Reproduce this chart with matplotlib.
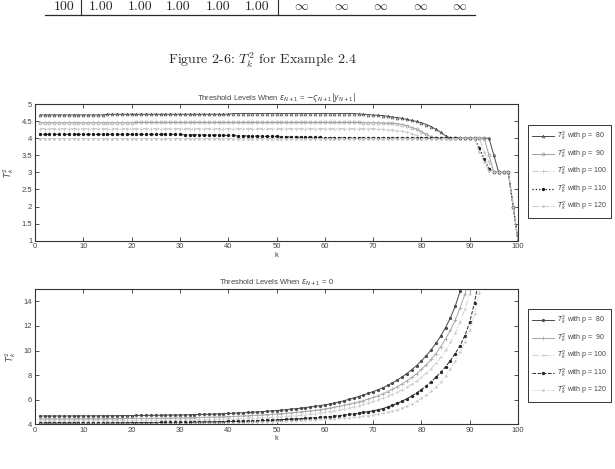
import matplotlib
matplotlib.use("Agg")
import matplotlib.pyplot as plt
from matplotlib.ticker import FuncFormatter
import numpy as np

# ---------------- data ----------------
p_values = [80, 90, 100, 110, 120]

top_p80 = [4.68, 4.68, 4.68, 4.68, 4.68, 4.68, 4.68, 4.68, 4.68, 4.68,
           4.68, 4.68, 4.68, 4.68, 4.70, 4.70, 4.70, 4.70, 4.70, 4.70,
           4.70, 4.70, 4.70, 4.70, 4.70, 4.70, 4.70, 4.70, 4.70, 4.70,
           4.70, 4.70, 4.70, 4.70, 4.70, 4.70, 4.70, 4.70, 4.70, 4.70,
           4.72, 4.72, 4.72, 4.72, 4.72, 4.72, 4.72, 4.72, 4.72, 4.72,
           4.72, 4.72, 4.72, 4.72, 4.72, 4.72, 4.72, 4.72, 4.72, 4.72,
           4.72, 4.72, 4.72, 4.72, 4.72, 4.72, 4.71, 4.70, 4.69, 4.68,
           4.67, 4.66, 4.64, 4.62, 4.60, 4.58, 4.55, 4.52, 4.49, 4.45,
           4.40, 4.34, 4.26, 4.17, 4.07, 4.00, 4.00, 4.00, 4.00, 4.00,
           4.00, 4.00, 4.00, 4.00, 3.50, 3.00, 3.00, 3.00, 2.00, 1.00]
top_p90 = [4.45, 4.45, 4.45, 4.45, 4.45, 4.45, 4.45, 4.45, 4.45, 4.45,
           4.45, 4.45, 4.45, 4.45, 4.45, 4.45, 4.45, 4.45, 4.45, 4.45,
           4.46, 4.46, 4.46, 4.46, 4.46, 4.46, 4.46, 4.46, 4.46, 4.46,
           4.46, 4.46, 4.46, 4.46, 4.46, 4.46, 4.46, 4.46, 4.46, 4.46,
           4.46, 4.46, 4.46, 4.46, 4.46, 4.46, 4.46, 4.46, 4.46, 4.46,
           4.46, 4.46, 4.46, 4.46, 4.46, 4.46, 4.46, 4.46, 4.46, 4.46,
           4.46, 4.46, 4.46, 4.46, 4.46, 4.46, 4.46, 4.45, 4.45, 4.45,
           4.45, 4.44, 4.44, 4.43, 4.42, 4.40, 4.36, 4.31, 4.26, 4.19,
           4.11, 4.04, 4.00, 4.00, 4.00, 4.00, 4.00, 4.00, 4.00, 4.00,
           4.00, 4.00, 4.00, 3.50, 3.00, 3.00, 3.00, 3.00, 2.00, 1.00]
top_p100 = [4.28, 4.28, 4.28, 4.28, 4.28, 4.28, 4.28, 4.28, 4.28, 4.28,
            4.28, 4.28, 4.28, 4.28, 4.28, 4.28, 4.28, 4.28, 4.28, 4.28,
            4.28, 4.28, 4.28, 4.28, 4.28, 4.28, 4.28, 4.28, 4.28, 4.28,
            4.28, 4.28, 4.28, 4.28, 4.28, 4.28, 4.28, 4.28, 4.28, 4.28,
            4.28, 4.28, 4.28, 4.28, 4.28, 4.28, 4.28, 4.28, 4.28, 4.28,
            4.28, 4.28, 4.28, 4.28, 4.28, 4.28, 4.28, 4.28, 4.28, 4.28,
            4.28, 4.28, 4.28, 4.28, 4.28, 4.28, 4.28, 4.28, 4.28, 4.28,
            4.27, 4.26, 4.25, 4.24, 4.22, 4.20, 4.17, 4.13, 4.08, 4.03,
            4.00, 4.00, 4.00, 4.00, 4.00, 4.00, 4.00, 4.00, 4.00, 4.00,
            4.00, 4.00, 3.60, 3.30, 3.00, 3.00, 3.00, 3.00, 2.00, 1.00]
top_p110 = [4.11, 4.11, 4.11, 4.11, 4.11, 4.11, 4.11, 4.11, 4.11, 4.11,
            4.11, 4.11, 4.11, 4.11, 4.11, 4.11, 4.11, 4.11, 4.11, 4.11,
            4.11, 4.11, 4.11, 4.11, 4.11, 4.11, 4.11, 4.11, 4.11, 4.11,
            4.10, 4.10, 4.10, 4.10, 4.09, 4.09, 4.09, 4.09, 4.08, 4.08,
            4.08, 4.07, 4.07, 4.07, 4.06, 4.06, 4.06, 4.05, 4.05, 4.05,
            4.04, 4.04, 4.04, 4.03, 4.03, 4.03, 4.02, 4.02, 4.02, 4.01,
            4.01, 4.01, 4.01, 4.01, 4.01, 4.00, 4.00, 4.00, 4.00, 4.00,
            4.00, 4.00, 4.00, 4.00, 4.00, 4.00, 4.00, 4.00, 4.00, 4.00,
            4.00, 4.00, 4.00, 4.00, 4.00, 4.00, 4.00, 4.00, 4.00, 4.00,
            4.00, 3.70, 3.40, 3.10, 3.00, 3.00, 3.00, 3.00, 2.00, 1.00]
top_p120 = [3.99, 3.99, 3.99, 3.99, 3.99, 3.99, 3.99, 3.99, 3.99, 3.99,
            3.99, 3.99, 3.99, 3.99, 3.99, 3.99, 3.99, 3.99, 3.99, 3.99,
            3.99, 3.99, 3.99, 3.99, 3.99, 3.99, 3.99, 3.99, 3.99, 3.99,
            3.99, 3.99, 3.99, 3.99, 3.99, 3.99, 3.99, 3.99, 3.99, 3.99,
            3.99, 3.99, 3.99, 3.99, 3.99, 3.99, 3.99, 3.99, 3.99, 3.99,
            3.99, 3.99, 3.99, 3.99, 3.99, 3.99, 3.99, 3.99, 3.99, 3.99,
            3.99, 3.99, 3.99, 3.99, 3.99, 3.99, 3.99, 3.99, 3.99, 3.99,
            3.99, 3.99, 3.99, 3.99, 3.99, 3.99, 3.99, 3.99, 3.99, 3.99,
            3.99, 3.99, 3.99, 3.99, 3.99, 3.99, 3.99, 4.00, 4.00, 4.00,
            4.00, 3.60, 3.30, 3.05, 3.00, 3.00, 3.00, 3.00, 2.00, 1.00]

bot_p80 = [4.68, 4.68, 4.68, 4.68, 4.68, 4.68, 4.68, 4.68, 4.69, 4.69,
           4.69, 4.69, 4.69, 4.70, 4.70, 4.70, 4.70, 4.71, 4.71, 4.71,
           4.72, 4.72, 4.72, 4.73, 4.73, 4.74, 4.74, 4.75, 4.76, 4.76,
           4.77, 4.78, 4.79, 4.80, 4.81, 4.82, 4.83, 4.85, 4.86, 4.88,
           4.90, 4.92, 4.94, 4.96, 4.98, 5.00, 5.03, 5.06, 5.09, 5.12,
           5.15, 5.19, 5.23, 5.27, 5.31, 5.36, 5.41, 5.46, 5.52, 5.58,
           5.65, 5.73, 5.82, 5.92, 6.03, 6.14, 6.26, 6.39, 6.52, 6.66,
           6.80, 6.97, 7.16, 7.37, 7.60, 7.85, 8.13, 8.44, 8.78, 9.16,
           9.58, 10.05, 10.58, 11.18, 11.86, 12.65, 13.60, 14.80, 16.30]
bot_p90 = [4.45, 4.45, 4.45, 4.45, 4.45, 4.45, 4.45, 4.45, 4.46, 4.46,
           4.46, 4.46, 4.46, 4.46, 4.47, 4.47, 4.47, 4.47, 4.48, 4.48,
           4.48, 4.49, 4.49, 4.49, 4.50, 4.50, 4.51, 4.51, 4.52, 4.53,
           4.53, 4.54, 4.55, 4.56, 4.57, 4.58, 4.59, 4.60, 4.61, 4.63,
           4.64, 4.66, 4.68, 4.70, 4.72, 4.74, 4.76, 4.79, 4.81, 4.84,
           4.87, 4.90, 4.94, 4.97, 5.01, 5.05, 5.09, 5.14, 5.19, 5.25,
           5.32, 5.39, 5.46, 5.54, 5.63, 5.72, 5.82, 5.93, 6.05, 6.18,
           6.32, 6.48, 6.65, 6.84, 7.05, 7.28, 7.53, 7.81, 8.12, 8.46,
           8.84, 9.27, 9.75, 10.30, 10.93, 11.65, 12.48, 13.45, 14.58, 15.90]
bot_p100 = [4.28, 4.28, 4.28, 4.28, 4.28, 4.28, 4.28, 4.28, 4.29, 4.29,
            4.29, 4.29, 4.29, 4.29, 4.30, 4.30, 4.30, 4.30, 4.31, 4.31,
            4.31, 4.31, 4.32, 4.32, 4.32, 4.33, 4.33, 4.34, 4.34, 4.35,
            4.35, 4.36, 4.37, 4.37, 4.38, 4.39, 4.40, 4.41, 4.42, 4.43,
            4.44, 4.45, 4.47, 4.48, 4.50, 4.51, 4.53, 4.55, 4.57, 4.59,
            4.61, 4.64, 4.67, 4.70, 4.74, 4.78, 4.82, 4.87, 4.92, 4.97,
            5.03, 5.09, 5.16, 5.23, 5.31, 5.40, 5.50, 5.61, 5.73, 5.86,
            5.98, 6.12, 6.27, 6.43, 6.61, 6.81, 7.03, 7.27, 7.53, 7.82,
            8.15, 8.53, 8.96, 9.45, 10.01, 10.66, 11.42, 12.31, 13.36, 14.60,
            16.10]
bot_p110 = [4.11, 4.11, 4.11, 4.11, 4.11, 4.11, 4.11, 4.11, 4.11, 4.11,
            4.11, 4.11, 4.11, 4.12, 4.12, 4.12, 4.12, 4.12, 4.13, 4.13,
            4.13, 4.13, 4.14, 4.14, 4.14, 4.15, 4.15, 4.15, 4.16, 4.16,
            4.17, 4.17, 4.18, 4.18, 4.19, 4.20, 4.20, 4.21, 4.22, 4.23,
            4.24, 4.25, 4.26, 4.27, 4.28, 4.30, 4.31, 4.33, 4.34, 4.36,
            4.38, 4.40, 4.42, 4.44, 4.46, 4.49, 4.51, 4.54, 4.57, 4.60,
            4.63, 4.67, 4.71, 4.75, 4.80, 4.85, 4.90, 4.96, 5.03, 5.10,
            5.18, 5.28, 5.40, 5.54, 5.70, 5.88, 6.08, 6.30, 6.55, 6.82,
            7.12, 7.45, 7.82, 8.23, 8.68, 9.18, 9.75, 10.40, 11.20, 12.30,
            13.90, 16.00]
bot_p120 = [4.00, 4.00, 4.00, 4.00, 4.00, 4.00, 4.00, 4.00, 4.00, 4.00,
            4.00, 4.00, 4.00, 4.01, 4.01, 4.01, 4.01, 4.01, 4.02, 4.02,
            4.02, 4.02, 4.03, 4.03, 4.03, 4.04, 4.04, 4.04, 4.05, 4.05,
            4.06, 4.06, 4.07, 4.07, 4.08, 4.08, 4.09, 4.10, 4.10, 4.11,
            4.12, 4.13, 4.14, 4.15, 4.16, 4.17, 4.18, 4.20, 4.21, 4.23,
            4.24, 4.26, 4.28, 4.30, 4.32, 4.34, 4.36, 4.38, 4.40, 4.42,
            4.44, 4.46, 4.48, 4.51, 4.54, 4.57, 4.61, 4.65, 4.70, 4.75,
            4.82, 4.90, 4.99, 5.09, 5.20, 5.33, 5.48, 5.66, 5.87, 6.10,
            6.37, 6.68, 7.04, 7.46, 7.94, 8.49, 9.12, 9.85, 10.70, 11.70,
            13.00, 14.70, 16.80]

table_row_first = "100"
table_row_left = ["1.00", "1.00", "1.00", "1.00", "1.00"]
table_row_right = [r"$\infty$"] * 5
caption = r"Figure 2-6: $T_k^2$ for Example 2.4"
title_top = r"Threshold Levels When $\varepsilon_{N+1}$ = $-\varsigma_{N+1}|y_{N+1}|$"
title_bot = r"Threshold Levels When $\varepsilon_{N+1}$ = 0"
legend_labels = [r"$T_k^2$ with p =  80", r"$T_k^2$ with p =  90",
                 r"$T_k^2$ with p = 100", r"$T_k^2$ with p = 110",
                 r"$T_k^2$ with p = 120"]

top_series = [top_p80, top_p90, top_p100, top_p110, top_p120]
bot_series = [bot_p80, bot_p90, bot_p100, bot_p110, bot_p120]

# ---------------- styles ----------------
top_styles = [
    dict(color="#4a4a4a", ls="-", marker="^", ms=2.0, mfc="none", lw=0.7, mew=0.5),
    dict(color="#a0a0a0", ls="-", marker="o", ms=2.2, mfc="none", lw=0.7, mew=0.5),
    dict(color="#c8c8c8", ls="-.", marker="+", ms=2.6, lw=0.7, mew=0.5),
    dict(color="#1a1a1a", ls=":", marker=".", ms=2.8, lw=0.9),
    dict(color="#c8c8c8", ls="-.", marker=".", ms=2.0, lw=0.7),
]
bot_styles = [
    dict(color="#4a4a4a", ls="-", marker=".", ms=2.6, lw=0.7),
    dict(color="#a8a8a8", ls="-", marker="+", ms=2.6, lw=0.7, mew=0.5),
    dict(color="#d0d0d0", ls="-.", marker=".", ms=1.5, lw=0.7),
    dict(color="#2a2a2a", ls="--", marker=".", ms=2.8, lw=0.7),
    dict(color="#c8c8c8", ls=":", marker=".", ms=1.5, lw=0.8),
]

W, H = 615, 469
fig = plt.figure(figsize=(W / 100, H / 100), dpi=100)
plt.rcParams["font.family"] = ["Liberation Sans", "DejaVu Sans"]

def fx(px):
    return px / W

def fy(py):
    return 1 - py / H

# ---------------- table remnant & caption ----------------
serif = dict(family="cmr10", math_fontfamily="cm", fontsize=10, color="#2a2a2a")
fig.text(fx(64), fy(10), table_row_first, ha="center", va="baseline", **serif)
for xc, s in zip([101, 140, 178, 218, 257], table_row_left):
    fig.text(fx(xc), fy(10), s, ha="center", va="baseline", **serif)
for xc, s in zip([302, 342, 381, 421, 460], table_row_right):
    fig.text(fx(xc), fy(10), s, ha="center", va="baseline", **serif)
fig.add_artist(plt.Line2D([fx(45), fx(475)], [fy(15.5), fy(15.5)], color="#2a2a2a", lw=0.9))
for xv in [81, 278]:
    fig.add_artist(plt.Line2D([fx(xv), fx(xv)], [fy(-2), fy(15.5)], color="#2a2a2a", lw=0.8))
fig.text(fx(262), fy(64.5), caption, ha="center", va="baseline", **serif)

# ---------------- axes ----------------
ax1 = fig.add_axes([fx(35), fy(240.7), fx(518 - 35), (240.7 - 104) / H])
ax2 = fig.add_axes([fx(35), fy(424.3), fx(518 - 35), (424.3 - 289) / H])

fmt = FuncFormatter(lambda v, p: f"{v:g}")

for ax, series, styles, title in [(ax1, top_series, top_styles, title_top),
                                  (ax2, bot_series, bot_styles, title_bot)]:
    for lab, ys, st in zip(legend_labels, series, styles):
        k = np.arange(1, len(ys) + 1)
        ax.plot(k, ys, label=lab, **st)
    ax.set_xlim(0, 100)
    ax.set_xticks(range(0, 101, 10))
    ax.xaxis.set_major_formatter(fmt)
    ax.yaxis.set_major_formatter(fmt)
    ax.tick_params(direction="in", top=True, right=True, length=3, width=0.6,
                   labelsize=5.5, pad=2, colors="#333333", labelcolor="#444444")
    for sp in ax.spines.values():
        sp.set_color("#333333")
        sp.set_linewidth(0.8)
    ax.set_xlabel("k", fontsize=5.5, labelpad=1, color="#444444")
    ax.set_ylabel(r"$T^2_k$", fontsize=6, labelpad=4, color="#444444")
    ax.set_title(title, fontsize=5.5, pad=3, color="#444444")

ax1.set_ylim(1, 5)
ax1.set_yticks(np.arange(1, 5.01, 0.5))
ax2.set_ylim(4, 15)
ax2.set_yticks([4, 6, 8, 10, 12, 14])

for ax, yc in [(ax1, 171.5), (ax2, 355.5)]:
    leg = ax.legend(loc="center left", bbox_to_anchor=(fx(527.5), fy(yc)),
                    bbox_transform=fig.transFigure, borderaxespad=0,
                    fontsize=5, frameon=True, fancybox=False, framealpha=1,
                    edgecolor="#333333", handlelength=3.2, labelspacing=0.62,
                    borderpad=0.6, handletextpad=0.4)
    leg.get_frame().set_linewidth(0.7)
    for t in leg.get_texts():
        t.set_color("#444444")

fig.savefig("out.png", dpi=100)
